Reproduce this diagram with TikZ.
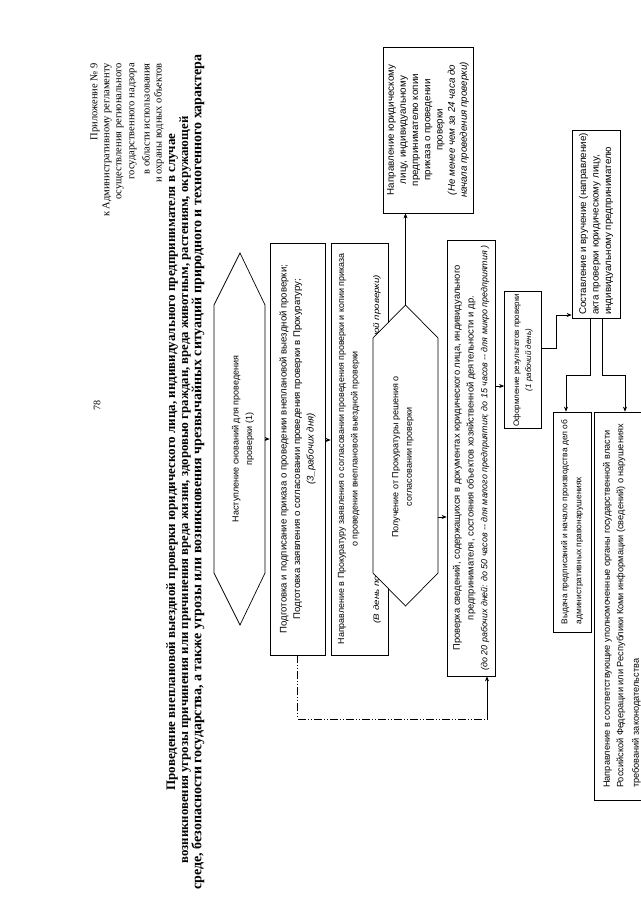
\documentclass[tikz,border=0pt]{standalone}
\usepackage{fontspec}
\setmainfont{Liberation Serif}
\newfontfamily\boxfont{Liberation Sans}
\usetikzlibrary{arrows.meta,calc}
\begin{document}
\begin{tikzpicture}[x=1pt,y=-1pt]
\useasboundingbox (0,0) rectangle (640,905);
\fill[white] (0,0) rectangle (640,905);
\tikzset{
 fbox/.style={draw, line width=0.7pt, rotate=90, inner sep=2pt, font=\boxfont\fontsize{9.6}{13.5}\selectfont, align=center},
 lbox/.style={fbox, align=left},
 txt/.style={rotate=90, inner sep=0pt, font=\boxfont\fontsize{9}{13.5}\selectfont, align=center},
 hexa/.style={draw, line width=0.7pt, fill=white},
 arr/.style={-{Stealth[length=5pt,width=4pt]}, line width=0.6pt},
 ddash/.style={line width=0.8pt, dash pattern=on 8pt off 2pt on 1pt off 2pt on 1pt off 2pt},
 apx/.style={rotate=90, anchor=east, inner sep=0pt, font=\fontsize{10.5}{12}\selectfont},
 ttl/.style={rotate=90, inner sep=0pt, font=\fontsize{12}{12}\selectfont\bfseries},
}
% page number
\node[rotate=90, font=\fontsize{10}{12}\selectfont] (pg) at (97,405) {78};
% appendix
\node[apx] (a1) at (95,63) {Приложение № 9};
\node[apx] (a2) at (107,63) {к Административному регламенту};
\node[apx] (a3) at (120,63) {осуществления регионального};
\node[apx] (a4) at (133,63) {государственного надзора};
\node[apx] (a5) at (146,63) {в области использования};
\node[apx] (a6) at (159,63) {и охраны водных объектов};
% title
\node[ttl] (t1) at (172,462) {\resizebox{657pt}{!}{Проведение внеплановой выездной проверки юридического лица, индивидуального предпринимателя в случае}};
\node[ttl] (t2) at (185,490) {\resizebox{747pt}{!}{возникновения угрозы причинения или причинения вреда жизни, здоровью граждан, вреда животным, растениям, окружающей}};
\node[ttl] (t3) at (198,472) {\resizebox{835pt}{!}{среде, безопасности государства, а также угрозы или возникновения чрезвычайных ситуаций природного и техногенного характера}};
% hexagon 1
\coordinate (h1t) at (240,253);
\coordinate (h1b) at (240,625);
\coordinate (h1r) at (265,439);
\draw[hexa] (h1t) -- (265,305) -- (265,573) -- (h1b) -- (214,573) -- (214,305) -- cycle;
\begin{scope}
\clip (h1t) -- (265,305) -- (265,573) -- (h1b) -- (214,573) -- (214,305) -- cycle;
\node[txt] (h1) at (243,439) {Наступление снований для проведения\\ проверки (1)};
\end{scope}
% box 1
\node[fbox, minimum width=412pt, minimum height=55pt] (b1) at (297.5,449)
 {Подготовка и подписание приказа о проведении внеплановой выездной проверки;\\
  Подготовка заявления о согласовании проведения проверки в Прокуратуру;\\
  \textit{(3\_рабочих дня)}};
% box 2
\node[fbox, minimum width=412pt, minimum height=57pt, font=\boxfont\fontsize{8.9}{13.5}\selectfont] (b2) at (359.5,449)
 {Направление в Прокуратуру заявления о согласовании проведения проверки и копии приказа\\
  о проведении внеплановой выездной проверки\\[8pt]
  \scalebox{1.22}[1]{\fontsize{8}{10}\selectfont\textit{(В день подписания приказа о проведении внеплановой выездной проверки)}}};
% hexagon 2
\coordinate (h2t) at (405.5,305);
\coordinate (h2b) at (405.5,606);
\coordinate (h2r) at (438,517);
\draw[hexa] (h2t) -- (438,338) -- (438,573) -- (h2b) -- (373,573) -- (373,338) -- cycle;
\node[txt] (h2) at (403,457) {Получение от Прокуратуры решения о\\ согласовании проверки};
% box 3
\node[fbox, minimum width=166pt, minimum height=90pt, font=\boxfont\fontsize{9.8}{12.2}\selectfont] (b3) at (428,130)
 {Направление юридическому\\ лицу, индивидуальному\\ предпринимателю копии\\ приказа о проведении\\ проверки\\
  \textit{(Не менее чем за 24 часа до}\\ \textit{начала проведения проверки)}};
% box Proverka
\node[fbox, minimum width=436pt, minimum height=48pt, font=\boxfont\fontsize{9.4}{13.8}\selectfont] (pr) at (471,458)
 {Проверка сведений, содержащихся в документах юридического лица, индивидуального\\
  предпринимателя, состояния объектов хозяйственной деятельности и др.\\
  \resizebox{425pt}{!}{\textit{(до 20 рабочих дней: до 50 часов -- для малого предприятия; до 15 часов -- для микро предприятия )}}};
% box Oformlenie
\node[fbox, minimum width=126pt, minimum height=37pt, font=\boxfont\fontsize{8}{12}\selectfont] (of) at (523,360)
 {Оформление результатов проверки\\ \textit{(1 рабочий день)}};
% box Sostavlenie
\node[lbox, minimum width=188pt, minimum height=48pt, font=\boxfont\fontsize{9.8}{12.5}\selectfont] (sc) at (596,224)
 {Составление и вручение (направление)\\ акта проверки юридическому лицу,\\ индивидуальному предпринимателю};
% box Vydacha
\node[lbox, minimum width=220pt, minimum height=38pt, font=\boxfont\fontsize{8.4}{14}\selectfont] (vy) at (572,522)
 {Выдача предписаний и начало производства дел об\\ административных правонарушениях};
% box Napravlenie
\node[lbox, minimum width=388pt, minimum height=56pt, font=\boxfont\fontsize{9.2}{13.5}\selectfont] (np) at (622,606)
 {Направление в соответствующие уполномоченные органы государственной власти\\
  Российской Федерации или Республики Коми информации (сведений) о нарушениях\\[2pt]
  требований законодательства};
% connectors
\draw[arr] (h1r) -- (h1r -| b1.north);
\coordinate (c12) at (325,440);
\draw[arr] (b1.south |- c12) -- (b2.north |- c12);
\draw[arr] (h2r) -- (h2r -| pr.north);
\draw[arr] (h2t) -- (h2t |- b3.west);
\coordinate (c3) at (500,386);
\draw[arr] (pr.south |- c3) -- (of.north |- c3);
\coordinate (oc) at (556,348);
\coordinate (oc2) at (556,315);
\draw[arr] (of.south |- oc) -- (oc) -- (oc2) -- (sc.north |- oc2);
\coordinate (s1) at (590,375);
\coordinate (s1b) at (566,375);
\draw[arr] (s1 |- sc.west) -- (s1) -- (s1b) -- (s1b |- vy.east);
\coordinate (s2) at (602,375);
\coordinate (s2b) at (625,375);
\draw[arr] (s2 |- sc.west) -- (s2) -- (s2b) -- (s2b |- np.east);
\coordinate (ddc) at (487,719);
\draw[ddash] (b1.west) |- (ddc);
\draw[arr] (ddc) -- (ddc |- pr.west);
\end{tikzpicture}
\end{document}
